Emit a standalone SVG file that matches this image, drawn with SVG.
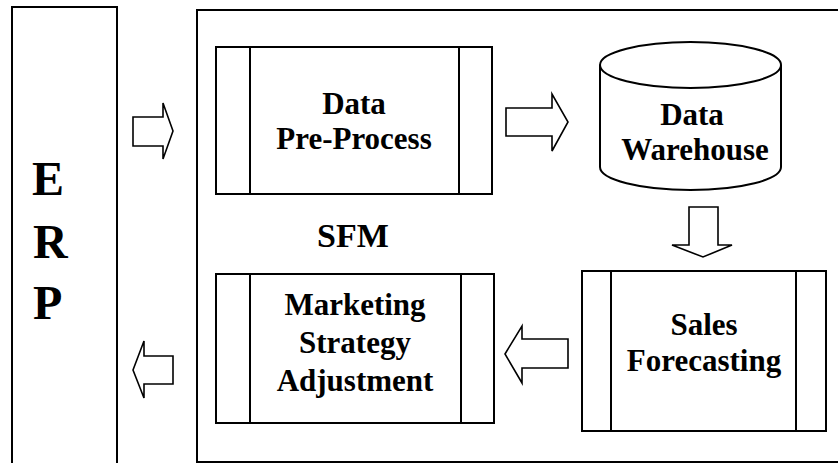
<svg xmlns="http://www.w3.org/2000/svg" width="838" height="463" viewBox="0 0 838 463">
<defs>
<style>
text{font-family:"Liberation Serif",serif;font-weight:bold}
</style>
</defs>
<rect width="838" height="463" fill="#ffffff"/>
<g id="erp" fill="none" stroke="#000" stroke-width="2">
<path d="M12,470 V7 H117 V470"/>
<text fill="#000" stroke="none" font-family="Liberation Serif" font-weight="bold" font-size="48" x="32" y="195">E</text>
<text fill="#000" stroke="none" font-family="Liberation Serif" font-weight="bold" font-size="48" x="33" y="258">R</text>
<text fill="#000" stroke="none" font-family="Liberation Serif" font-weight="bold" font-size="48" x="33" y="319">P</text>
</g>
<g id="sfm">
<rect x="197" y="10" width="660" height="452" fill="#fff" stroke="#000" stroke-width="2"/>
<text fill="#000" font-family="Liberation Serif" font-weight="bold" font-size="34" text-anchor="middle" x="353" y="247">SFM</text>
</g>
<g id="preprocess" stroke="#000" stroke-width="2">
<rect x="216" y="47" width="276" height="147" fill="#fff"/>
<line x1="250" y1="47" x2="250" y2="194"/>
<line x1="459" y1="47" x2="459" y2="194"/>
<text fill="#000" stroke="none" font-family="Liberation Serif" font-weight="bold" font-size="31" text-anchor="middle" x="354" y="114">Data</text>
<text fill="#000" stroke="none" font-family="Liberation Serif" font-weight="bold" font-size="31" text-anchor="middle" x="354" y="149">Pre-Process</text>
</g>
<g id="warehouse" stroke="#000" stroke-width="2" fill="#fff">
<path d="M600,65 V167 A90.5,23 0 0 0 781,167 V65"/>
<ellipse cx="690.5" cy="65" rx="90.5" ry="23"/>
<text fill="#000" stroke="none" font-family="Liberation Serif" font-weight="bold" font-size="31" text-anchor="middle" x="692" y="125">Data</text>
<text fill="#000" stroke="none" font-family="Liberation Serif" font-weight="bold" font-size="31" text-anchor="middle" x="695" y="160">Warehouse</text>
</g>
<g id="sales" stroke="#000" stroke-width="2">
<rect x="582" y="271" width="244" height="160" fill="#fff"/>
<line x1="611" y1="271" x2="611" y2="431"/>
<line x1="796" y1="271" x2="796" y2="431"/>
<text fill="#000" stroke="none" font-family="Liberation Serif" font-weight="bold" font-size="31" text-anchor="middle" x="704" y="335">Sales</text>
<text fill="#000" stroke="none" font-family="Liberation Serif" font-weight="bold" font-size="31" text-anchor="middle" x="704" y="371">Forecasting</text>
</g>
<g id="marketing" stroke="#000" stroke-width="2">
<rect x="216" y="274" width="278" height="149" fill="#fff"/>
<line x1="250" y1="274" x2="250" y2="423"/>
<line x1="461" y1="274" x2="461" y2="423"/>
<text fill="#000" stroke="none" font-family="Liberation Serif" font-weight="bold" font-size="31" text-anchor="middle" x="355" y="315">Marketing</text>
<text fill="#000" stroke="none" font-family="Liberation Serif" font-weight="bold" font-size="31" text-anchor="middle" x="355" y="353">Strategy</text>
<text fill="#000" stroke="none" font-family="Liberation Serif" font-weight="bold" font-size="31" text-anchor="middle" x="355" y="391">Adjustment</text>
</g>
<g id="connectors" fill="#fff" stroke="#000" stroke-width="1.6">
<polygon points="133,117 163,117 163,103 173,131 163,159 163,146 133,146"/>
<polygon points="133,370 144,341 144,356 173,356 173,384 144,384 144,398"/>
<polygon points="506,108 552,108 552,94 568,122 552,151 552,136 506,136"/>
<polygon points="689,207 718,207 718,245 732,245 703,257 672,245 689,245"/>
<polygon points="505,354 522,326 522,339 568,339 568,368 522,368 522,383"/>
</g>
</svg>
